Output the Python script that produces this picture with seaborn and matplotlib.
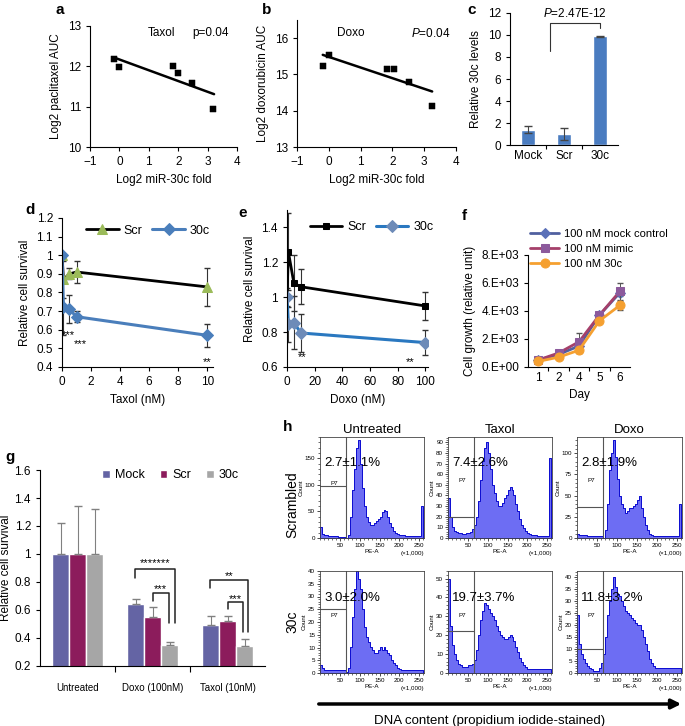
import numpy as np
import pandas as pd
import seaborn as sns
import matplotlib
matplotlib.use("Agg")
from matplotlib import pyplot as plt
from matplotlib.ticker import FuncFormatter, MultipleLocator, FixedLocator
from matplotlib.patches import FancyArrowPatch

W, H = 685, 726

# a: paclitaxel AUC vs miR-30c
a_mir = [-0.17, -0.02, 1.81, 2.01, 2.48, 3.2]
a_auc = [12.18, 11.99, 12.0, 11.83, 11.59, 10.94]
a_fit_x = [-0.15, 3.22]
a_fit_y = [12.21, 11.31]

# b: doxorubicin AUC vs miR-30c
b_mir = [-0.17, 0.02, 1.84, 2.05, 2.52, 3.25]
b_auc = [15.23, 15.54, 15.16, 15.15, 14.8, 14.14]
b_fit_x = [-0.19, 3.25]
b_fit_y = [15.54, 14.53]

# c: relative 30c levels
c_groups = ["Mock", "Scr", "30c"]
c_levels = [1.4, 1.0, 9.9]
c_err = [0.3, 0.55, 0.05]

# d: taxol survival
d_taxol = [0, 0.1, 0.5, 1, 10]
d_scr = [1.0, 0.87, 0.9, 0.91, 0.83]
d_scr_err = [0.0, 0.1, 0.03, 0.06, 0.1]
d_30c = [1.0, 0.72, 0.71, 0.67, 0.57]
d_30c_err = [0.0, 0.15, 0.075, 0.03, 0.06]
d_stars = ["***", "***", "**"]
d_star_x = [0.45, 1.25, 10]
d_star_y = [0.57, 0.525, 0.425]

# e: doxo survival
e_doxo = [0, 1, 5, 10, 100]
e_scr = [1.0, 1.26, 1.08, 1.06, 0.95]
e_scr_err = [0.0, 0.22, 0.16, 0.1, 0.08]
e_30c = [1.0, 0.845, 0.855, 0.795, 0.74]
e_30c_err = [0.05, 0.1, 0.15, 0.11, 0.07]
e_stars = ["**", "**"]
e_star_x = [11, 89]
e_star_y = [0.655, 0.63]

# f: cell growth
f_days = ["1", "2", "4", "5", "6"]
f_labels = ["100 nM mock control", "100 nM mimic", "100 nM 30c"]
f_mock = [500, 900, 1500, 3700, 5300]
f_mimic = [500, 1000, 1800, 3700, 5400]
f_30c = [400, 700, 1200, 3300, 4400]
f_mock_err = [50, 100, 150, 150, 200]
f_mimic_err = [100, 150, 600, 200, 600]
f_30c_err = [100, 100, 200, 150, 300]

# g: survival bars
g_treat = ["Untreated", "Doxo (100nM)", "Taxol (10nM)"]
g_names = ["Mock", "Scr", "30c"]
g_mock = [1.0, 0.64, 0.49]
g_scr = [1.0, 0.55, 0.52]
g_30c = [1.0, 0.35, 0.34]
g_mock_err = [0.22, 0.04, 0.065]
g_scr_err = [0.345, 0.07, 0.035]
g_30c_err = [0.32, 0.02, 0.05]
# brackets: left x, right x, top, left end, right end, label, label y
g_brackets = [
    (0.773, 1.30, 0.896, 0.829, 0.51, "*******", 0.935),
    (1.0, 1.22, 0.725, 0.667, 0.51, "***", 0.75),
    (1.773, 2.28, 0.812, 0.757, 0.44, "**", 0.845),
    (2.0, 2.21, 0.655, 0.605, 0.44, "***", 0.68),
]

# h: DNA content histograms (counts per 5-unit bin of PE-A, 0..260)
h_rows = ["Scrambled", "30c"]
h_cols = ["Untreated", "Taxol", "Doxo"]
h_unt_scr = [20, 8, 5, 5, 4, 4, 3, 3, 3, 2, 2, 2, 1, 0, 5, 40, 90, 130, 170, 185,
             140, 95, 60, 40, 30, 25, 25, 28, 32, 35, 40, 48, 52, 50, 40, 28, 20, 14, 10, 8,
             6, 5, 5, 4, 4, 4, 3, 3, 3, 3, 3, 60]
h_tax_scr = [38, 20, 10, 7, 6, 5, 5, 4, 4, 5, 5, 6, 8, 12, 20, 35, 55, 72, 85, 90,
             80, 65, 50, 42, 35, 30, 30, 33, 38, 40, 45, 48, 45, 40, 32, 25, 18, 12, 9, 7,
             5, 4, 3, 3, 3, 2, 2, 2, 2, 2, 2, 75]
h_dox_scr = [5, 3, 3, 3, 3, 2, 2, 2, 2, 2, 2, 2, 2, 0, 10, 40, 80, 100, 115, 95,
             70, 50, 40, 35, 30, 32, 35, 35, 38, 40, 45, 50, 35, 25, 15, 10, 5, 3, 2, 2,
             2, 2, 2, 2, 2, 2, 2, 2, 2, 2, 2, 40]
h_unt_30c = [3, 2, 1, 1, 1, 1, 1, 1, 1, 1, 1, 1, 1, 0.5, 2, 10, 22, 33, 40, 37,
             33, 25, 18, 14, 12, 10, 9, 8, 8, 9, 10, 9, 10, 9, 8, 7, 5, 4, 3, 2,
             1.5, 1, 1, 1, 1, 1, 1, 1, 1, 1, 1, 1]
h_tax_30c = [50, 25, 15, 10, 7, 5, 4, 3, 3, 3, 4, 4, 5, 7, 12, 20, 28, 33, 37, 36,
             34, 32, 30, 28, 25, 22, 20, 19, 18, 18, 19, 20, 19, 17, 14, 11, 8, 6, 4, 3,
             2, 2, 2, 2, 2, 2, 2, 2, 2, 2, 2, 2]
h_dox_30c = [24, 12, 8, 6, 4, 3, 2, 1.5, 1, 1, 1, 2, 4, 8, 15, 24, 30, 35, 40, 36,
             33, 32, 30, 28, 26, 25, 24, 23, 22, 21, 20, 20, 18, 15, 12, 9, 6, 4, 3, 2,
             2, 2, 2, 2, 2, 2, 2, 2, 2, 2, 2, 2]
h_counts = [h_unt_scr, h_tax_scr, h_dox_scr, h_unt_30c, h_tax_30c, h_dox_30c]
h_pct = ["2.7±1.1%", "7.4±2.6%", "2.8±1.9%", "3.0±2.0%", "19.7±3.7%", "11.8±3.2%"]
h_ymax = [190, 95, 119, 40, 54, 42.5]
h_ystep = [50, 10, 25, 5, 10, 5]
h_gate_y = [97, 20, 37, 25, 22, 10]


sns.set_theme(style="ticks")
plt.rcParams['font.family'] = ['Liberation Sans', 'DejaVu Sans']
plt.rcParams['mathtext.fontset'] = 'custom'
plt.rcParams['mathtext.rm'] = 'Liberation Sans'
plt.rcParams['mathtext.it'] = 'Liberation Sans:italic'
plt.rcParams.update({
    'axes.edgecolor': 'black', 'axes.linewidth': 0.8,
    'xtick.color': 'black', 'ytick.color': 'black',
    'xtick.major.size': 3, 'ytick.major.size': 3,
    'xtick.major.width': 0.8, 'ytick.major.width': 0.8,
    'xtick.labelsize': 8.5, 'ytick.labelsize': 8.5,
    'axes.labelsize': 8.5, 'axes.labelcolor': 'black', 'text.color': 'black',
})

fig = plt.figure(figsize=(W / 100, H / 100), dpi=100)


def place(l, t, r, b):
    return fig.add_axes([l / W, 1 - b / H, (r - l) / W, (b - t) / H])


def plain(v, p):
    return f"{v:g}"


def sci(v, p):
    if v == 0:
        return "0.E+00"
    e = int(np.floor(np.log10(v)))
    return f"{int(round(v / 10 ** e))}.E+{e:02d}"


# ---- a
ax = place(90, 26, 237, 147)
sns.lineplot(x=a_fit_x, y=a_fit_y, color='black', lw=1.8, ax=ax)
sns.scatterplot(x=a_mir, y=a_auc, marker='s', color='black', s=20, edgecolor='black', ax=ax, zorder=3)
ax.set(xlim=(-1, 4), ylim=(10, 13), xticks=range(-1, 5), yticks=[10, 11, 12, 13])
ax.set_xlabel("Log2 miR-30c fold")
ax.set_ylabel("Log2 paclitaxel AUC")
ax.text(0.97, 12.82, "Taxol", fontsize=8.5, va='center')
ax.text(2.47, 12.82, "p=0.04", fontsize=8.5, va='center')
sns.despine(ax=ax)

# ---- b
ax = place(297, 20, 456, 147)
sns.lineplot(x=b_fit_x, y=b_fit_y, color='black', lw=1.8, ax=ax)
sns.scatterplot(x=b_mir, y=b_auc, marker='s', color='black', s=20, edgecolor='black', ax=ax, zorder=3)
ax.set(xlim=(-1, 4), ylim=(13, 16.5), xticks=range(-1, 5), yticks=[13, 14, 15, 16])
ax.set_xlabel("Log2 miR-30c fold")
ax.set_ylabel("Log2 doxorubicin AUC")
ax.text(0.26, 16.13, "Doxo", fontsize=8.5, va='center')
ax.text(2.6, 16.13, "$P$=0.04", fontsize=8.5, va='center')
sns.despine(ax=ax)

# ---- c
ax = place(510, 13, 618, 145)
sns.barplot(x=c_groups, y=c_levels, color='#4a7cc0', width=0.4, saturation=1, ax=ax)
ax.errorbar(range(3), c_levels, yerr=c_err, fmt='none', ecolor='#444444', elinewidth=0.8, capsize=3)
ax.plot([0.6, 0.6, 2.0, 2.0], [8.55, 11.1, 11.1, 10.6], color='#333333', lw=0.8)
ax.text(1.3, 11.95, "$P$=2.47E-12", fontsize=8.5, ha='center', va='center', clip_on=False)
ax.set(xlim=(-0.5, 2.5), ylim=(0, 12), yticks=range(0, 13, 2))
ax.xaxis.set_minor_locator(FixedLocator([0.5, 1.5]))
ax.tick_params(axis='x', which='major', length=0)
ax.tick_params(axis='x', which='minor', length=3, width=0.8)
ax.set_ylabel("Relative 30c levels")
sns.despine(ax=ax)

# ---- d
ax = place(62, 218, 213, 367)
ax.errorbar(d_taxol, d_scr, yerr=d_scr_err, fmt='none', ecolor='#333333', elinewidth=0.8, capsize=2.5)
ax.errorbar(d_taxol, d_30c, yerr=d_30c_err, fmt='none', ecolor='#333333', elinewidth=0.8, capsize=2.5)
sns.lineplot(x=d_taxol, y=d_scr, color='black', lw=2, marker='^', markersize=7,
             markerfacecolor='#9bbb59', markeredgecolor='#9bbb59', label='Scr', ax=ax)
sns.lineplot(x=d_taxol, y=d_30c, color='#4a7ebb', lw=2.2, marker='D', markersize=6,
             markerfacecolor='#4a7ebb', markeredgecolor='#4a7ebb', label='30c', ax=ax)
for s, x, y in zip(d_stars, d_star_x, d_star_y):
    ax.text(x, y, s, fontsize=8, ha='center', va='center')
ax.set(xlim=(0, 10.4), ylim=(0.4, 1.2), xticks=range(0, 11, 2))
ax.yaxis.set_major_locator(MultipleLocator(0.1))
ax.yaxis.set_major_formatter(FuncFormatter(plain))
ax.set_xlabel("Taxol (nM)")
ax.set_ylabel("Relative cell survival")
ax.legend(ncol=2, frameon=False, loc='upper center', bbox_to_anchor=(0.57, 1.03),
          fontsize=9, handlelength=2.6, columnspacing=0.8, handletextpad=0.4)
sns.despine(ax=ax)

# ---- e
ax = place(287, 210, 428, 367)
ax.errorbar(e_doxo, e_scr, yerr=e_scr_err, fmt='none', ecolor='#333333', elinewidth=0.8, capsize=2.5)
ax.errorbar(e_doxo, e_30c, yerr=e_30c_err, fmt='none', ecolor='#333333', elinewidth=0.8, capsize=2.5)
sns.lineplot(x=e_doxo, y=e_scr, color='black', lw=2, marker='s', markersize=4,
             markerfacecolor='black', markeredgecolor='black', label='Scr', ax=ax)
sns.lineplot(x=e_doxo, y=e_30c, color='#2a78c0', lw=2.2, marker='D', markersize=6.5,
             markerfacecolor='#6d8bb8', markeredgecolor='#6d8bb8', label='30c', ax=ax)
for s, x, y in zip(e_stars, e_star_x, e_star_y):
    ax.text(x, y, s, fontsize=8, ha='center', va='center')
ax.set(xlim=(0, 102), ylim=(0.6, 1.5), xticks=range(0, 101, 20), yticks=[0.6, 0.8, 1.0, 1.2, 1.4])
ax.yaxis.set_major_formatter(FuncFormatter(plain))
ax.set_xlabel("Doxo (nM)")
ax.set_ylabel("Relative cell survival")
ax.legend(ncol=2, frameon=False, loc='upper center', bbox_to_anchor=(0.6, 1.0),
          fontsize=9, handlelength=2.6, columnspacing=0.8, handletextpad=0.4)
sns.despine(ax=ax)

# ---- f
ax = place(528, 255, 630, 367)
days_pos = np.arange(len(f_days))
f_styles = [(f_mock, f_mock_err, '#50609f', '#5a70b8', 'D', 5),
            (f_mimic, f_mimic_err, '#a5406a', '#8c5a9c', 's', 6),
            (f_30c, f_30c_err, '#f5a030', '#f5a030', 'o', 6.5)]
for (vals, err, lc, mc, mk, ms), lab in zip(f_styles, f_labels):
    ax.errorbar(days_pos, vals, yerr=err, fmt='none', ecolor='#555555', elinewidth=0.7, capsize=2)
    sns.lineplot(x=days_pos, y=vals, color=lc, lw=2, marker=mk, markersize=ms,
                 markerfacecolor=mc, markeredgecolor=mc, label=lab, ax=ax)
ax.set(xlim=(-0.5, 4.5), ylim=(0, 8000), yticks=range(0, 8001, 2000))
ax.set_xticks(days_pos)
ax.set_xticklabels(f_days)
ax.xaxis.set_minor_locator(FixedLocator([0.5, 1.5, 2.5, 3.5]))
ax.tick_params(axis='x', which='major', length=0)
ax.tick_params(axis='x', which='minor', length=3, width=0.8)
ax.yaxis.set_major_formatter(FuncFormatter(sci))
ax.set_xlabel("Day")
ax.set_ylabel("Cell growth (relative unit)")
ax.legend(frameon=False, loc='upper left', bbox_to_anchor=(-0.02, 1.27), fontsize=8,
          handlelength=2.6, labelspacing=0.45, handletextpad=0.4, borderaxespad=0)
sns.despine(ax=ax)

# ---- g
ax = place(40, 470, 265, 666)
df_g = pd.DataFrame({
    "treatment": g_treat * 3,
    "group": [n for n in g_names for _ in g_treat],
    "survival": g_mock + g_scr + g_30c,
})
sns.barplot(data=df_g, x="treatment", y="survival", hue="group", hue_order=g_names,
            palette=['#6464a4', '#8c1c5c', '#a6a6a6'], width=0.68, gap=0, saturation=1,
            errorbar=None, ax=ax)
bars = sorted([p for p in ax.patches if p.get_width() > 0.1 and p.get_height() > 0],
              key=lambda p: p.get_x())
g_vals = [v for t in range(3) for v in (g_mock[t], g_scr[t], g_30c[t])]
g_errs = [v for t in range(3) for v in (g_mock_err[t], g_scr_err[t], g_30c_err[t])]
bar_x = [p.get_x() + p.get_width() / 2 for p in bars][:len(g_vals)]
ax.errorbar(bar_x, g_vals, yerr=[np.zeros(len(g_errs)), g_errs], fmt='none',
            ecolor='#808080', elinewidth=0.8, capsize=3)
for xl, xr, yt, yle, yre, lab, ly in g_brackets:
    ax.plot([xl, xl, xr, xr], [yle, yt, yt, yre], color='#222222', lw=1.1)
    ax.text((xl + xr) / 2, ly, lab, fontsize=8, ha='center', va='center')
ax.set(xlim=(-0.5, 2.5), ylim=(0.2, 1.6))
ax.yaxis.set_major_locator(MultipleLocator(0.2))
ax.yaxis.set_major_formatter(FuncFormatter(plain))
ax.xaxis.set_minor_locator(FixedLocator([0.5, 1.5]))
ax.tick_params(axis='x', which='major', length=0, labelsize=7, pad=12)
ax.tick_params(axis='x', which='minor', length=4, width=0.8)
ax.set_xlabel("")
ax.set_ylabel("Relative cell survival", fontsize=8.5)
ax.yaxis.set_label_coords(-0.125, 0.5)
hnd, lbl = ax.get_legend_handles_labels()
ax.legend(hnd, lbl, ncol=3, frameon=False, loc='upper center', bbox_to_anchor=(0.58, 1.06),
          fontsize=9, handlelength=0.6, handleheight=0.6, columnspacing=1.2, handletextpad=0.4)
sns.despine(ax=ax)

# ---- h
bin_centers = np.arange(2.5, 260, 5)
h_left = [320, 448, 577]
h_right = [424, 552, 682]
h_top = [437, 571]
h_bottom = [538, 673]
for i, counts in enumerate(h_counts):
    r, c = divmod(i, 3)
    ax = place(h_left[c], h_top[r], h_right[c], h_bottom[r])
    df_h = pd.DataFrame({"pe": bin_centers, "n": counts})
    sns.histplot(data=df_h, x="pe", weights="n", binwidth=5, binrange=(0, 260), element='step',
                 fill=True, color='#4848f0', alpha=0.8, edgecolor='#0a0ad0', linewidth=0.7, ax=ax)
    ax.axvline(66, color='#555555', lw=0.8)
    ax.plot([0, 66], [h_gate_y[i], h_gate_y[i]], color='#555555', lw=0.8)
    ax.text(0.1, 0.55 if i else 0.52, "P7", transform=ax.transAxes, fontsize=4.5)
    ax.text(0.04, 0.74, h_pct[i], transform=ax.transAxes, fontsize=9.5, va='center')
    ax.set(xlim=(0, 262), ylim=(0, h_ymax[i]))
    ax.set_xticks([50, 100, 150, 200, 250])
    ax.xaxis.set_minor_locator(MultipleLocator(10))
    ax.yaxis.set_major_locator(MultipleLocator(h_ystep[i]))
    ax.yaxis.set_minor_locator(MultipleLocator(h_ystep[i] / 5))
    ax.tick_params(which='major', labelsize=4.5, length=2.5, width=0.5, pad=1)
    ax.tick_params(which='minor', length=1.5, width=0.4)
    ax.set_xlabel("PE-A", fontsize=4.5, labelpad=1)
    ax.set_ylabel("Count", fontsize=4.5, labelpad=1)
    ax.text(1.0, -0.13, "(×1,000)", transform=ax.transAxes, fontsize=4.5, ha='right', va='top')
    for sp in ax.spines.values():
        sp.set_linewidth(0.6)
        sp.set_color('#444444')
    if r == 0:
        ax.set_title(h_cols[c], fontsize=9.5, pad=3)

fig.text(292 / W, 1 - 505 / H, h_rows[0], rotation=90, fontsize=10, ha='center', va='center')
fig.text(292 / W, 1 - 622 / H, h_rows[1], rotation=90, fontsize=10, ha='center', va='center')
fig.add_artist(FancyArrowPatch((316 / W, 1 - 704 / H), (684 / W, 1 - 704 / H), transform=fig.transFigure,
                               arrowstyle='-|>', mutation_scale=14, lw=2.5, color='black'))
fig.text(490 / W, 1 - 721 / H, "DNA content (propidium iodide-stained)", fontsize=9.5, ha='center', va='center')

# panel letters
for lab, x, y in [("a", 55, 10), ("b", 262, 10), ("c", 467, 10), ("d", 25, 210), ("e", 238, 213),
                  ("f", 462, 216), ("g", 5, 457), ("h", 283, 427)]:
    fig.text(x / W, 1 - y / H, lab, fontsize=11, fontweight='bold', ha='left', va='center')

fig.savefig("out.png", dpi=100)
